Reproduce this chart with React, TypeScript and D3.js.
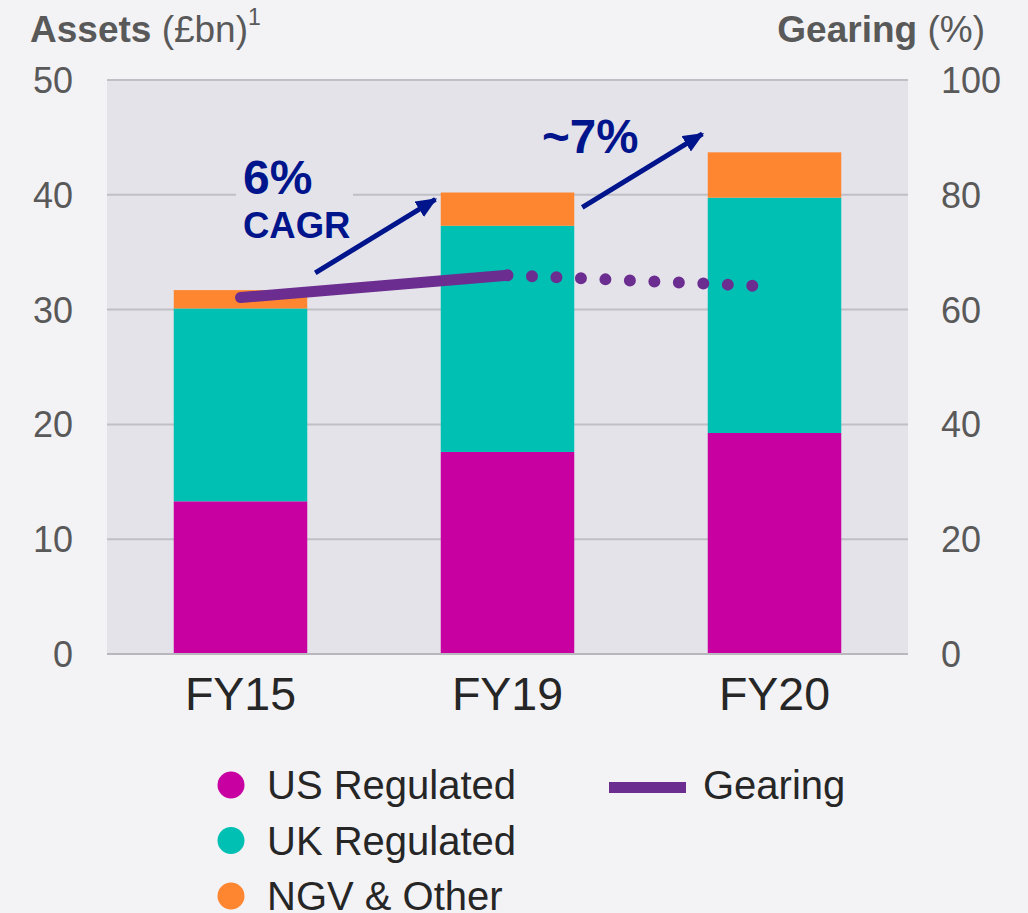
import React from "react";
import * as d3 from "d3";

const categories = ["FY15", "FY19", "FY20"];
const usRegulated = [13.3, 17.6, 19.25];
const ukRegulated = [16.8, 19.7, 20.5];
const ngvOther = [1.6, 2.9, 3.95];
const gearing = [62.1, 66.0, 64.0];
const leftTicks = [0, 10, 20, 30, 40, 50];
const rightTicks = [0, 20, 40, 60, 80, 100];
const seriesNames = ["US Regulated", "UK Regulated", "NGV & Other"];
const seriesColors = ["#C800A1", "#00BFB3", "#FF8630"];
// annotation arrows in data units: [category index position, asset value]
const arrows = [
  { from: [0.28, 33.2], to: [0.73, 39.6] },
  { from: [1.28, 38.9], to: [1.73, 45.3] },
];

const W = 1028;
const H = 913;
const M = { left: 107, right: 908, top: 80, bottom: 654 };
const FONT = "'Liberation Sans', Arial, Helvetica, sans-serif";
const NAVY = "#00148C";
const PURPLE = "#6C2D91";

export default function App() {
  const x = d3
    .scaleBand<string>()
    .domain(categories)
    .range([M.left, M.right])
    .paddingInner(0.5)
    .paddingOuter(0.25);
  const y = d3.scaleLinear().domain([0, 50]).range([M.bottom, M.top]);
  const yR = d3.scaleLinear().domain([0, 100]).range([M.bottom, M.top]);
  const step = x.step();
  const xc = (i: number) => (x(categories[0]) as number) + x.bandwidth() / 2 + i * step;

  const table = categories.map((c, i) => ({
    cat: c,
    us: usRegulated[i],
    uk: ukRegulated[i],
    ngv: ngvOther[i],
  }));
  const stack = d3.stack<any>().keys(["us", "uk", "ngv"])(table);

  const line = d3
    .line<[number, number]>()
    .x((d) => d[0])
    .y((d) => d[1]);
  const solidPts: [number, number][] = [0, 1].map((i) => [xc(i), yR(gearing[i])]);
  const dotPts: [number, number][] = [1, 2].map((i) => [xc(i), yR(gearing[i])]);

  return (
    <svg
      width={W}
      height={H}
      style={{ position: "absolute", left: 0, top: 0, fontFamily: FONT }}
    >
      <defs>
        <marker
          id="ah"
          viewBox="0 0 21 18"
          refX="19"
          refY="9"
          markerWidth="21"
          markerHeight="18"
          orient="auto"
          markerUnits="userSpaceOnUse"
        >
          <path d="M0,0 L21,9 L0,18 Z" fill={NAVY} />
        </marker>
      </defs>
      <rect x={0} y={0} width={W} height={H} fill="#F3F3F6" />
      <rect
        x={M.left}
        y={M.top}
        width={M.right - M.left}
        height={M.bottom - M.top}
        fill="#E4E3EA"
      />
      {leftTicks
        .filter((t) => t > 0)
        .map((t) => (
          <line
            key={"g" + t}
            x1={M.left}
            x2={M.right}
            y1={y(t)}
            y2={y(t)}
            stroke="#C0BFC5"
            strokeWidth={2}
          />
        ))}
      {/* label background for 6% CAGR */}
      <rect x={236} y={155} width={117} height={90} fill="#E4E3EA" />
      {stack.map((s, si) =>
        s.map((d, i) => (
          <rect
            key={si + "-" + i}
            x={x(categories[i])}
            y={y(d[1])}
            width={x.bandwidth()}
            height={y(d[0]) - y(d[1])}
            fill={seriesColors[si]}
          />
        ))
      )}
      <line
        x1={M.left}
        x2={M.right}
        y1={M.bottom}
        y2={M.bottom}
        stroke="#B8B7BD"
        strokeWidth={2}
      />
      {/* gearing */}
      <path
        d={line(solidPts) as string}
        fill="none"
        stroke={PURPLE}
        strokeWidth={11}
        strokeLinecap="round"
      />
      <path
        d={line(dotPts) as string}
        fill="none"
        stroke={PURPLE}
        strokeWidth={12}
        strokeLinecap="round"
        strokeDasharray="0 24.5"
      />
      {/* arrows */}
      {arrows.map((a, i) => (
        <line
          key={"a" + i}
          x1={xc(a.from[0])}
          y1={y(a.from[1])}
          x2={xc(a.to[0])}
          y2={y(a.to[1])}
          stroke={NAVY}
          strokeWidth={5}
          markerEnd="url(#ah)"
        />
      ))}
      <text x={243} y={194} fontSize={48} fontWeight="bold" fill={NAVY}>
        6%
      </text>
      <text x={243} y={238} fontSize={36.5} fontWeight="bold" fill={NAVY}>
        CAGR
      </text>
      <text x={542} y={153} fontSize={47.5} fontWeight="bold" fill={NAVY}>
        ~7%
      </text>
      {/* axes labels */}
      {leftTicks.map((t) => (
        <text
          key={"l" + t}
          x={73}
          y={y(t)}
          dy="0.36em"
          textAnchor="end"
          fontSize={36}
          fill="#595959"
        >
          {t}
        </text>
      ))}
      {rightTicks.map((t) => (
        <text
          key={"r" + t}
          x={941}
          y={yR(t)}
          dy="0.36em"
          textAnchor="start"
          fontSize={36}
          fill="#595959"
        >
          {t}
        </text>
      ))}
      {categories.map((c, i) => (
        <text
          key={c}
          x={xc(i)}
          y={710}
          textAnchor="middle"
          fontSize={46.5}
          fill="#262626"
        >
          {c}
        </text>
      ))}
      <text x={30} y={42} fontSize={37} fill="#595959">
        <tspan fontWeight="bold">Assets</tspan>
        <tspan> (£bn)</tspan>
        <tspan fontSize={23} dy={-17}>
          1
        </tspan>
      </text>
      <text x={985} y={42} fontSize={37} fill="#595959" textAnchor="end">
        <tspan fontWeight="bold">Gearing</tspan>
        <tspan> (%)</tspan>
      </text>
      {/* legend */}
      {seriesNames.map((n, i) => (
        <g key={n} transform={`translate(0, ${i * 55.5})`}>
          <circle cx={231} cy={785} r={13.5} fill={seriesColors[i]} />
          <text x={267} y={799} fontSize={40} fill="#262626">
            {n}
          </text>
        </g>
      ))}
      <line x1={609} x2={686} y1={787.5} y2={787.5} stroke={PURPLE} strokeWidth={11} />
      <text x={703} y={799} fontSize={40} fill="#262626">
        Gearing
      </text>
    </svg>
  );
}
